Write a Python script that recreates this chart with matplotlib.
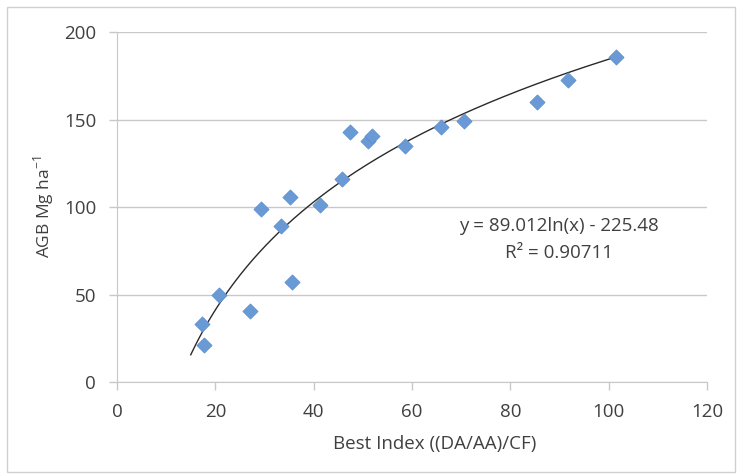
import numpy as np
import matplotlib
matplotlib.use("Agg")
import matplotlib.pyplot as plt
from matplotlib.patches import Rectangle

# best index vs above-ground biomass
best_index = [17.3, 17.6, 20.7, 27.0, 29.3, 33.4, 35.2, 35.6, 41.3, 45.8,
              47.4, 51.0, 51.9, 58.6, 66.0, 70.6, 85.4, 91.7, 101.5]
agb = [33, 21, 50, 40.5, 99, 89, 106, 57, 101, 116,
       143, 138, 140.6, 135, 146, 149, 160, 172.6, 186]

# logarithmic trendline printed on the chart
COEF_A = 89.012
COEF_B = -225.48
R2 = 0.90711
TREND_X = (15, 102)

x_ticks = [0, 20, 40, 60, 80, 100, 120]
y_ticks = [0, 50, 100, 150, 200]

TEXT = "#404040"
GRID = "#c8c8c8"
BLUE = "#6a9ad6"
FS = 13.5

plt.rcParams['font.family'] = ['Open Sans', 'DejaVu Sans']

W, H = 740, 474
fig = plt.figure(figsize=(W / 100, H / 100), dpi=100)
ax = fig.add_axes([117 / W, 1 - 382 / H, 590 / W, 350 / H])

# outer chart border
fig.patches.append(Rectangle((7 / W, 2 / H), 728 / W, 465 / H,
                             transform=fig.transFigure, fill=False,
                             edgecolor="#d0d0d0", lw=1.0))

xs = np.linspace(TREND_X[0], TREND_X[1], 200)
ax.plot(xs, COEF_A * np.log(xs) + COEF_B, color="#2a2a2a", lw=1.0, zorder=2)
ax.scatter(best_index, agb, marker="D", s=60, color=BLUE,
           edgecolors="#5a8ccc", linewidths=0.5, zorder=3)

ax.set_xlim(0, 120)
ax.set_ylim(0, 200)
ax.set_xticks(x_ticks)
ax.set_yticks(y_ticks)
ax.tick_params(axis="both", colors=GRID, labelcolor=TEXT, labelsize=FS,
               length=6, width=1)
ax.tick_params(axis="y", pad=9)
ax.tick_params(axis="x", pad=9)
ax.yaxis.grid(True, color=GRID, lw=1)
ax.set_axisbelow(True)
for side in ["top", "right"]:
    ax.spines[side].set_visible(False)
for side in ["left", "bottom"]:
    ax.spines[side].set_color(GRID)

ax.set_xlabel("Best Index ((DA/AA)/CF)", color=TEXT, fontsize=FS, va="center")
ax.xaxis.set_label_coords((435 - 117) / 590, (382 - 444) / 350)
ax.set_ylabel(r"AGB Mg ha$^{\mathregular{-1}}$", color=TEXT, fontsize=12.5,
              va="center")
ax.yaxis.set_label_coords((44 - 117) / 590, 0.5)

ax.text(89.9, 89, f"y = {COEF_A:.3f}ln(x) - {abs(COEF_B):.2f}", ha="center",
        va="center", color=TEXT, fontsize=FS)
ax.text(89.9, 73.5, f"R² = {R2}", ha="center", va="center", color=TEXT,
        fontsize=FS)

fig.savefig("out.png", dpi=100, facecolor="white")
